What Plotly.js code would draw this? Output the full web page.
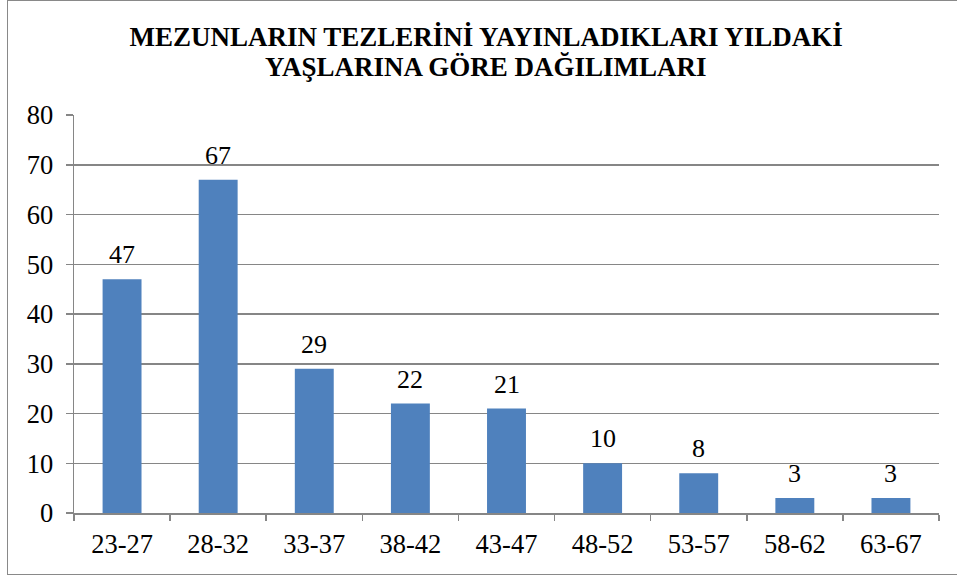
<!DOCTYPE html>
<html>
<head>
<meta charset="utf-8">
<script src="https://cdn.plot.ly/plotly-3.0.1.min.js"></script>
<style>
  html, body { margin:0; padding:0; background:#fff; overflow:hidden; }
  #frame { position:absolute; left:7px; top:0px; width:1000px; height:575px; border:1.5px solid #898989; box-sizing:border-box; pointer-events:none; z-index:5; }
  #chart { position:absolute; left:0; top:0; width:957px; height:578px; }
</style>
</head>
<body>
<div id="chart"></div>
<div id="frame"></div>
<script>
const categories = ["23-27","28-32","33-37","38-42","43-47","48-52","53-57","58-62","63-67"];
const counts = [47, 67, 29, 22, 21, 10, 8, 3, 3];
const yTicks = [0,10,20,30,40,50,60,70,80];
const titleLine1 = "MEZUNLARIN TEZLERİNİ YAYINLADIKLARI YILDAKİ";
const titleLine2 = "YAŞLARINA GÖRE DAĞILIMLARI";

const serif = "Liberation Serif";
const gridCol = "#868686";

const trace = {
  type: "bar",
  x: categories,
  y: counts,
  marker: { color: "#4F81BD", line: { width: 0 } },
  hoverinfo: "skip"
};

const annotations = categories.map((c, i) => ({
  x: c, y: counts[i], xref: "x", yref: "y",
  text: String(counts[i]),
  showarrow: false, yanchor: "bottom", yshift: 8,
  font: { family: serif, size: 26, color: "#000" }
}));

// second title line, placed just under the first
annotations.push({
  text: titleLine2,
  xref: "paper", yref: "paper",
  x: (486 - 74) / 865, y: (513 - 66.7) / 398,
  xanchor: "center", yanchor: "middle",
  showarrow: false,
  font: { family: serif, size: 27, color: "#000", weight: "bold" }
});

const layout = {
  width: 957, height: 578,
  margin: { l: 74, r: 18, t: 115, b: 65 },
  paper_bgcolor: "rgba(0,0,0,0)",
  plot_bgcolor: "#fff",
  bargap: 0.595,
  showlegend: false,
  font: { family: serif },
  title: {
    text: titleLine1,
    xref: "container", x: 0.508, xanchor: "center",
    yref: "container", y: 1 - 36.7 / 578, yanchor: "middle",
    font: { family: serif, size: 27, color: "#000", weight: "bold" }
  },
  xaxis: {
    type: "category",
    tickson: "boundaries",
    ticks: "outside", ticklen: 6, tickwidth: 1.5, tickcolor: gridCol,
    showline: true, linecolor: gridCol, linewidth: 1.5,
    showgrid: false,
    ticklabelstandoff: 7,
    tickfont: { family: serif, size: 26.5, color: "#000" }
  },
  yaxis: {
    range: [0, 80],
    tickvals: yTicks,
    ticktext: yTicks.map(String),
    ticks: "outside", ticklen: 7, tickwidth: 1.5, tickcolor: gridCol,
    showline: true, linecolor: gridCol, linewidth: 1.5,
    showgrid: true, gridcolor: gridCol, gridwidth: 1.5,
    zeroline: false,
    ticklabelstandoff: 7,
    tickfont: { family: serif, size: 26.5, color: "#000" }
  },
  annotations: annotations
};

Plotly.newPlot("chart", [trace], layout, { staticPlot: true, displayModeBar: false });
</script>
</body>
</html>
